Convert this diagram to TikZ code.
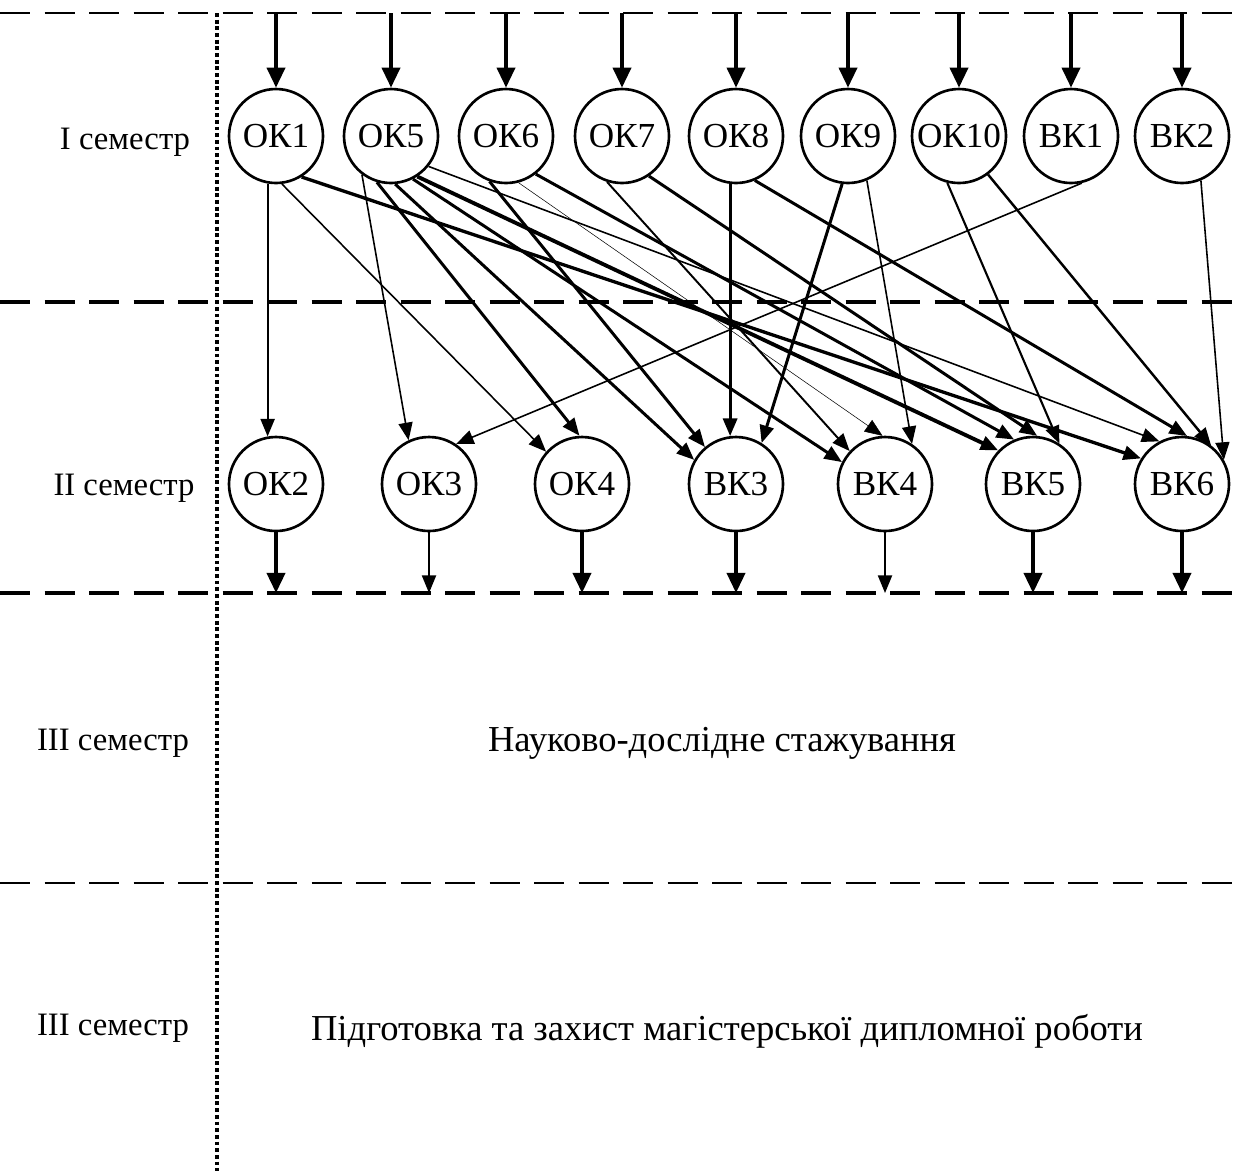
\documentclass[tikz,border=0pt]{standalone}
\usepackage{fontspec}
\setmainfont{Liberation Serif}
\usetikzlibrary{arrows.meta}

\begin{document}
\begin{tikzpicture}[
    font=\fontsize{9.3}{11}\selectfont,
    >={Triangle[length=5pt,width=4pt]},
    kurs/.style={circle, draw, line width=0.75pt, minimum size=9.4mm, inner sep=0pt,
        font=\fontsize{10}{12}\selectfont},
    sep/.style={dash pattern=on 3mm off 1.45mm, line width=1.15pt},
    link/.style={->, line width=0.45pt},
    boldlink/.style={->, line width=0.85pt},
    feed/.style={->, line width=1.1pt, >={Triangle[length=5.7pt,width=5.1pt]}}
  ]
    \useasboundingbox (0,0) rectangle (12.39,-11.71);

    % semester borders
    \draw [sep, line width=0.75pt] (0,-0.13) -- (12.39,-0.13);
    \draw [sep] (0,-3.02) -- (12.39,-3.02);
    \draw [sep] (0,-5.93) -- (12.39,-5.93);
    \draw [sep, line width=0.75pt] (0,-8.83) -- (12.39,-8.83);
    \draw [dash pattern=on 1.1pt off 0.8pt, line width=0.9pt] (2.17,-0.13) -- (2.17,-11.71);
    \coordinate (top) at (0,-0.13);
    \coordinate (mid) at (0,-5.93);

    \node (s1) at (1.25,-1.42) {I семестр};
    \node (s2) at (1.24,-4.88) {II семестр};
    \node (s3) at (1.13,-7.43) {III семестр};
    \node (s4) at (1.13,-10.28) {III семестр};
    \node [font=\fontsize{10.4}{12}\selectfont] (stazh) at (7.22,-7.43) {Науково-дослідне стажування};
    \node [font=\fontsize{10.4}{12}\selectfont] (dyplom) at (7.27,-10.31) {Підготовка та захист магістерської дипломної роботи};

    % I semester
    \node [kurs] (ok1) at (2.76,-1.36) {ОК1};
    \node [kurs] (ok5) at (3.91,-1.36) {ОК5};
    \node [kurs] (ok6) at (5.06,-1.36) {ОК6};
    \node [kurs] (ok7) at (6.22,-1.36) {ОК7};
    \node [kurs] (ok8) at (7.36,-1.36) {ОК8};
    \node [kurs] (ok9) at (8.48,-1.36) {ОК9};
    \node [kurs] (ok10) at (9.59,-1.36) {ОК10};
    \node [kurs] (vk1) at (10.71,-1.36) {ВК1};
    \node [kurs] (vk2) at (11.82,-1.36) {ВК2};

    % II semester
    \node [kurs] (ok2) at (2.76,-4.84) {ОК2};
    \node [kurs] (ok3) at (4.29,-4.84) {ОК3};
    \node [kurs] (ok4) at (5.82,-4.84) {ОК4};
    \node [kurs] (vk3) at (7.36,-4.84) {ВК3};
    \node [kurs] (vk4) at (8.85,-4.84) {ВК4};
    \node [kurs] (vk5) at (10.33,-4.84) {ВК5};
    \node [kurs] (vk6) at (11.82,-4.84) {ВК6};

    \foreach \n in {ok1,ok5,ok6,ok7,ok8,ok9,ok10,vk1,vk2}
        \draw [feed] (\n |- top) -- (\n);
    \foreach \n in {ok2,ok4,vk3,vk5,vk6}
        \draw [feed] (\n) -- (\n |- mid);
    \foreach \n in {ok3,vk4}
        \draw [->, line width=0.5pt] (\n) -- (\n |- mid);

    \draw [link, line width=0.6pt] (ok1.260) -- (ok2.100);
    \draw [link] (ok1.277) -- (ok4.138);
    \draw [boldlink, line width=0.95pt] (ok1.302) -- (vk6.148);
    \draw [link] (ok5.233) -- (ok3.115);
    \draw [boldlink] (ok5.253) -- (ok4.93);
    \draw [boldlink] (ok5.275) -- (vk3.150);
    \draw [boldlink] (ok5.297) -- (vk4.153);
    \draw [boldlink, line width=1.1pt] (ok5.303) -- (vk5.136);
    \draw [link] (ok5.321) -- (vk6.118);
    \draw [boldlink] (ok6.250) -- (vk3.130);
    \draw [link, line width=0.15pt] (ok6.285) -- (vk4.93);
    \draw [boldlink] (ok6.308) -- (vk5.113);
    \draw [link, line width=0.55pt] (ok7.252) -- (vk4.137);
    \draw [boldlink] (ok7.304) -- (vk5.85);
    \draw [boldlink] (ok8.263) -- (vk3.97);
    \draw [boldlink] (ok8.293) -- (vk6.84);
    \draw [boldlink] (ok9.263) -- (vk3.58);
    \draw [link] (ok9.293) -- (vk4.56);
    \draw [link, line width=0.6pt] (ok10.256) -- (vk5.57);
    \draw [link, line width=0.7pt] (ok10.307) -- (vk6.53);
    \draw [link] (vk1.283) -- (ok3.56);
    \draw [link] (vk2.293) -- (vk6.30);
\end{tikzpicture}
\end{document}
